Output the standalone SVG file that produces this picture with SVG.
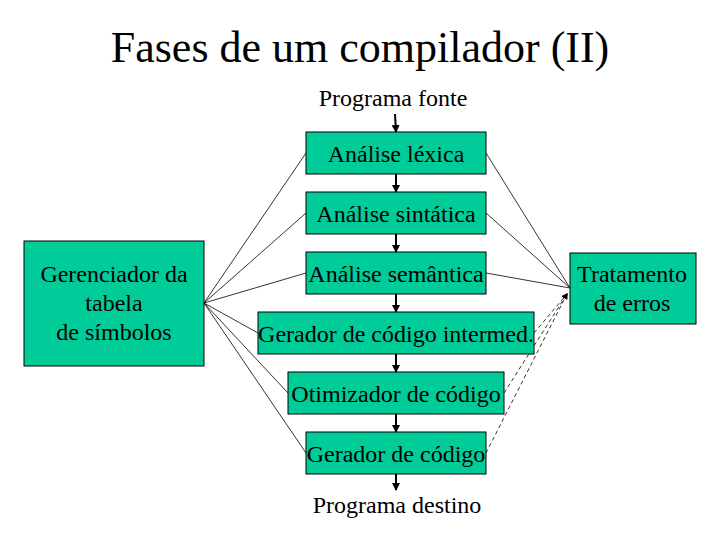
<svg xmlns="http://www.w3.org/2000/svg" width="720" height="540" viewBox="0 0 720 540">
<style>
.box{fill:#00CC99;stroke:#000;stroke-width:1}
text{font-family:"Liberation Serif",Tinos,"Times New Roman","DejaVu Serif",serif;fill:#000}
.t{font-size:24px;text-anchor:middle}
.flow{stroke:#000;stroke-width:2;fill:none;marker-end:url(#ah)}
.thin{stroke:#000;stroke-width:0.8;fill:none}
.dash{stroke:#000;stroke-width:0.8;fill:none;stroke-dasharray:4,3;marker-end:url(#sm)}
</style>
<defs>
<marker id="ah" markerWidth="8" markerHeight="8" refX="7" refY="4" orient="auto" markerUnits="userSpaceOnUse">
<path d="M0,0 L8,4 L0,8 z" fill="#000"/>
</marker>
<marker id="sm" markerWidth="6" markerHeight="6" refX="5" refY="3" orient="auto" markerUnits="userSpaceOnUse">
<path d="M0,0 L6,3 L0,6 z" fill="#000"/>
</marker>
</defs>
<rect width="720" height="540" fill="#fff"/>
<text x="360" y="62" font-size="44" text-anchor="middle">Fases de um compilador (II)</text>
<text x="393" y="106" class="t">Programa fonte</text>
<text x="397" y="513" class="t">Programa destino</text>
<g id="connectors">
<line class="flow" x1="395" y1="114" x2="396" y2="132"/>
<line class="flow" x1="396" y1="174" x2="396" y2="192"/>
<line class="flow" x1="396" y1="234" x2="396" y2="252"/>
<line class="flow" x1="396" y1="294" x2="396" y2="312"/>
<line class="flow" x1="396" y1="354" x2="396" y2="372"/>
<line class="flow" x1="396" y1="414" x2="396" y2="432"/>
<line class="flow" x1="396" y1="474" x2="396" y2="490"/>
<line class="thin" x1="204" y1="303" x2="306" y2="153"/>
<line class="thin" x1="204" y1="303" x2="306" y2="213"/>
<line class="thin" x1="204" y1="303" x2="306" y2="273"/>
<line class="thin" x1="204" y1="303" x2="258" y2="333"/>
<line class="thin" x1="204" y1="303" x2="288" y2="393"/>
<line class="thin" x1="204" y1="303" x2="306" y2="453"/>
<line class="thin" x1="486" y1="153" x2="570" y2="288"/>
<line class="thin" x1="486" y1="213" x2="570" y2="288"/>
<line class="thin" x1="486" y1="273" x2="570" y2="288"/>
<line class="dash" x1="534" y1="333" x2="567" y2="294"/>
<line class="dash" x1="504" y1="393" x2="567" y2="294"/>
<line class="dash" x1="486" y1="453" x2="567" y2="294"/>
</g>
<g id="lexica"><rect class="box" x="306" y="132" width="180" height="42"/><text x="396" y="162" class="t">Análise léxica</text></g>
<g id="sintatica"><rect class="box" x="306" y="192" width="180" height="42"/><text x="396" y="222" class="t">Análise sintática</text></g>
<g id="semantica"><rect class="box" x="306" y="252" width="180" height="42"/><text x="396" y="282" class="t">Análise semântica</text></g>
<g id="intermed"><rect class="box" x="258" y="312" width="276" height="42"/><text x="396" y="342" class="t">Gerador de código intermed.</text></g>
<g id="otimizador"><rect class="box" x="288" y="372" width="216" height="42"/><text x="396" y="402" class="t">Otimizador de código</text></g>
<g id="gerador"><rect class="box" x="306" y="432" width="180" height="42"/><text x="396" y="462" class="t">Gerador de código</text></g>
<g id="gerenciador"><rect class="box" x="24" y="241" width="180" height="125"/>
<text x="114" y="282" class="t">Gerenciador da</text>
<text x="114" y="311" class="t">tabela</text>
<text x="114" y="340" class="t">de símbolos</text></g>
<g id="tratamento"><rect class="box" x="570" y="253" width="126" height="71"/>
<text x="632" y="282" class="t">Tratamento</text>
<text x="632" y="311" class="t">de erros</text></g>
</svg>
